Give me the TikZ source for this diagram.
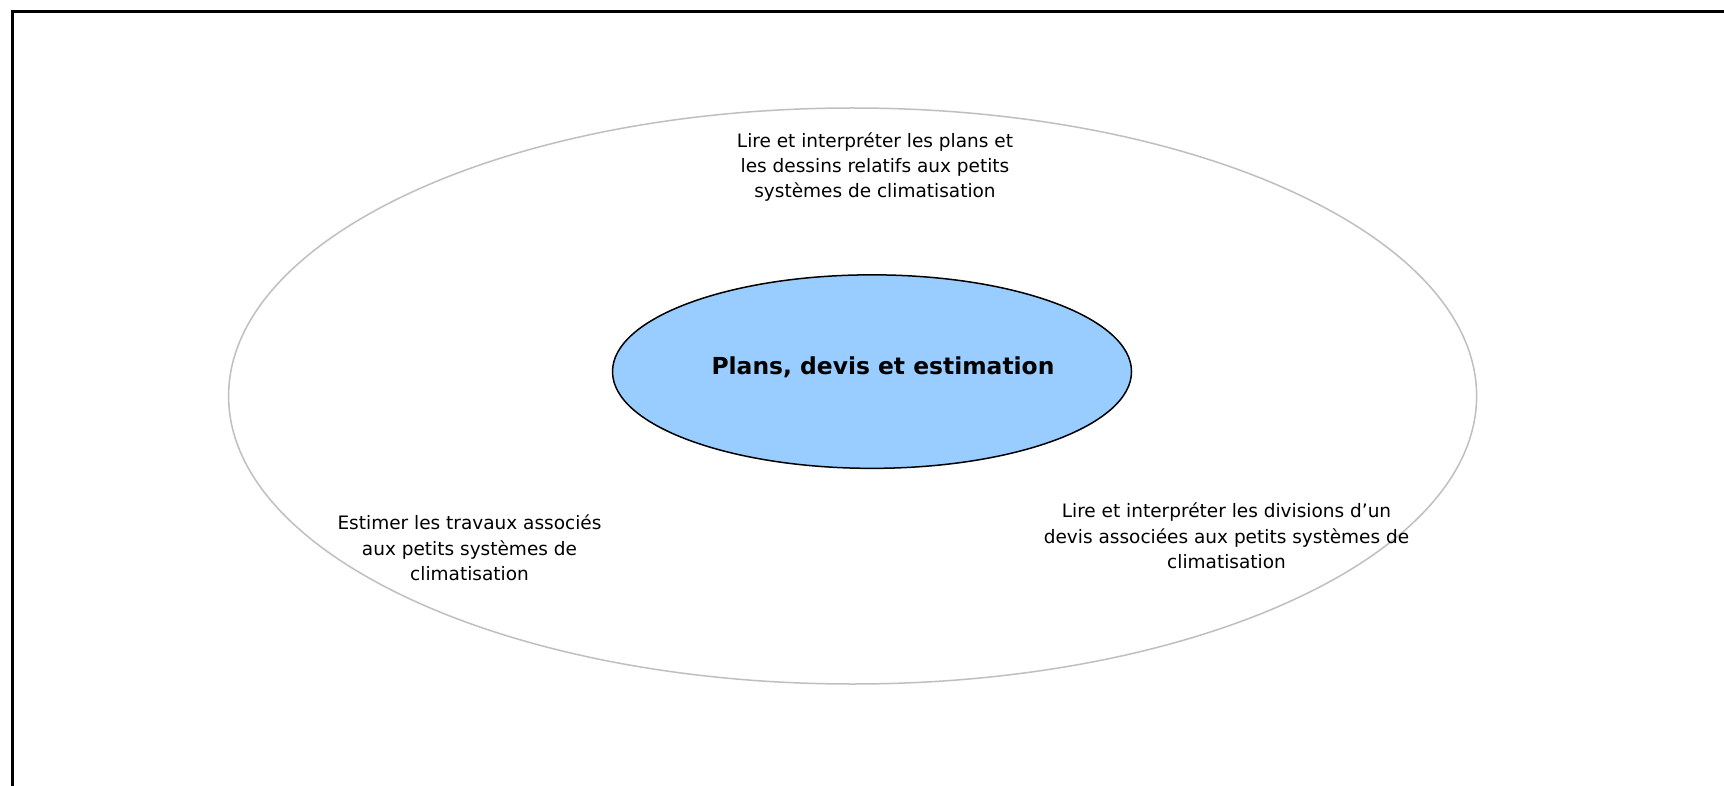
\documentclass[tikz,border=0pt]{standalone}
\usepackage{fontspec}
\setmainfont{DejaVu Sans}
\usetikzlibrary{shapes.geometric}
\definecolor{innerfill}{HTML}{99CCFF}
\definecolor{outerline}{HTML}{BFBFBF}
\tikzset{
  lbl/.style={align=center, font=\fontsize{18.5}{25.3}\selectfont, inner sep=0pt},
}
\begin{document}
\begin{tikzpicture}[x=1pt,y=-1pt]
\useasboundingbox (0,0) rectangle (1724,786);
\fill[white] (0,0) rectangle (1724,786);
% frame
\draw[line width=3pt] (12,800) -- (12,12) -- (1740,12);
% outer ellipse
\node[ellipse, draw=outerline, line width=1.5pt, minimum width=1248pt, minimum height=576pt, inner sep=0pt] (outer) at (852.6,396) {};
% inner ellipse
\node[ellipse, draw=black, fill=innerfill, line width=1.5pt, minimum width=519pt, minimum height=193.5pt, inner sep=0pt] (inner) at (872,371.6) {};
\node[font=\bfseries\fontsize{23.4}{28}\selectfont, inner sep=0pt] (title) at (883,367) {Plans, devis et estimation};
% labels
\node[lbl] (top) at (875,167) {Lire et interpréter les plans et\\les dessins relatifs aux petits\\systèmes de climatisation};
\node[lbl] (left) at (469.5,548) {Estimer les travaux associés\\aux petits systèmes de\\climatisation};
\node[lbl] (right) at (1226.5,536) {Lire et interpréter les divisions d’un\\devis associées aux petits systèmes de\\climatisation};
\end{tikzpicture}
\end{document}
